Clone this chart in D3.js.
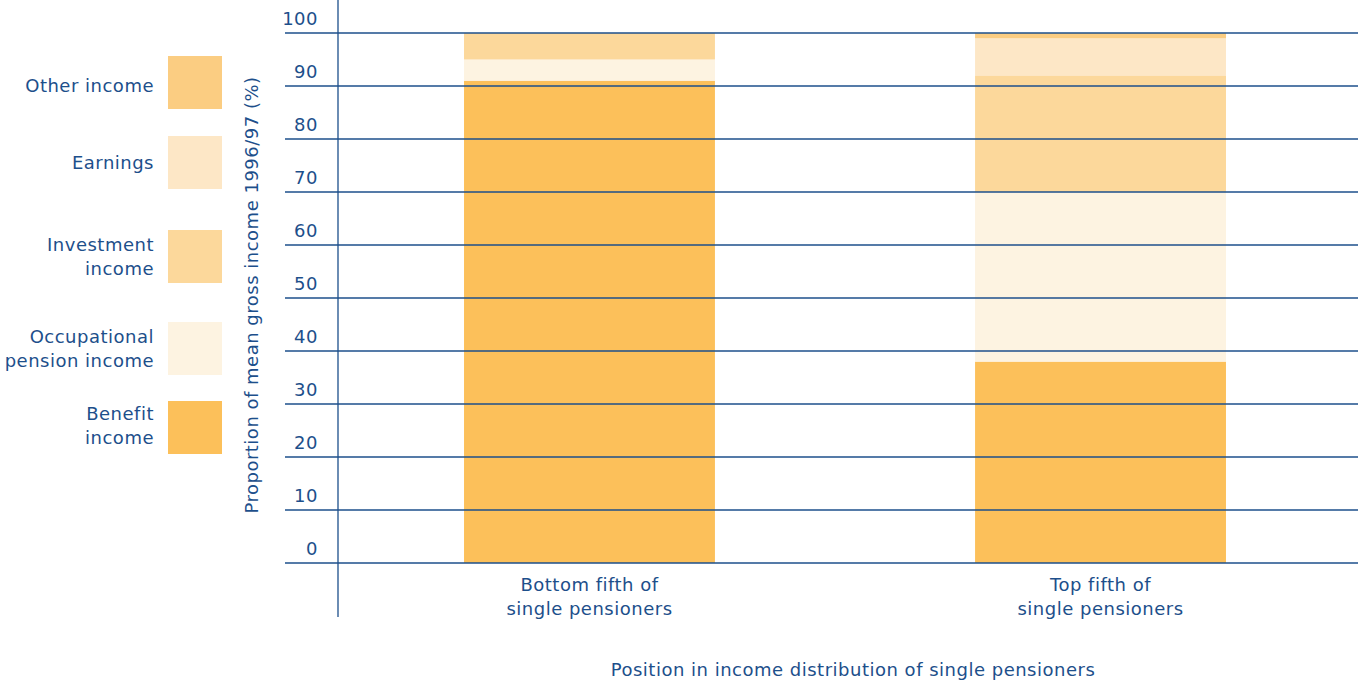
<!DOCTYPE html>
<html><head><meta charset="utf-8">
<script src="https://cdn.jsdelivr.net/npm/d3@7"></script>
<style>body{margin:0;background:#fff}svg{display:block}text{font-family:"DejaVu Sans",Verdana,sans-serif;fill:#1d4f8b;letter-spacing:0.5px}</style>
</head><body>
<script>
const categories = [["Bottom fifth of","single pensioners"],["Top fifth of","single pensioners"]];
const seriesNames = ["Benefit income","Occupational pension income","Investment income","Earnings","Other income"];
const benefit = [91, 38];
const occupational = [4, 32];
const investment = [5, 22];
const earnings = [0, 7];
const other = [0, 1];
const yTicks = [0,10,20,30,40,50,60,70,80,90,100];
const colors = ["#fcc05a","#fdf3e1","#fcd89b","#fde7c6","#fbcd82"];
const legendLabels = [["Other income"],["Earnings"],["Investment","income"],["Occupational","pension income"],["Benefit","income"]];
const legendColors = ["#fbcd82","#fde7c6","#fcd89b","#fdf3e1","#fcc05a"];

const W=1364,H=684;
const FS=18;
const svg=d3.select("body").append("svg").attr("width",W).attr("height",H);
const y=d3.scaleLinear().domain([0,100]).range([563,33]);
const x=d3.scaleBand().domain(d3.range(categories.length)).range([338,1352]).paddingInner(0.509).paddingOuter(0.2466);

// bars
const table=categories.map((c,i)=>({i,b:benefit[i],o:occupational[i],inv:investment[i],e:earnings[i],ot:other[i]}));
const stack=d3.stack().keys(["b","o","inv","e","ot"])(table);
stack.forEach((layer,k)=>{
  svg.append("g").selectAll("rect").data(layer).join("rect")
    .attr("x",d=>x(d.data.i)).attr("width",x.bandwidth())
    .attr("y",d=>y(d[1])).attr("height",d=>y(d[0])-y(d[1]))
    .attr("fill",colors[k]);
});

// gridlines
const g=svg.append("g");
g.selectAll("line").data(yTicks).join("line")
  .attr("x1",285).attr("x2",1358).attr("y1",d=>y(d)).attr("y2",d=>y(d))
  .attr("stroke","#1d4f8b").attr("stroke-width",1.3);
g.selectAll("text").data(yTicks).join("text")
  .attr("x",318).attr("y",d=>y(d)-8).attr("text-anchor","end")
  .attr("font-size",FS).text(d=>d);
// y axis line
svg.append("line").attr("x1",338).attr("x2",338).attr("y1",0).attr("y2",617)
  .attr("stroke","#1d4f8b").attr("stroke-width",1.3);

// x labels
categories.forEach((c,i)=>{
  const t=svg.append("text").attr("x",x(i)+x.bandwidth()/2).attr("y",591).attr("text-anchor","middle").attr("font-size",FS);
  c.forEach((l,j)=>t.append("tspan").attr("x",x(i)+x.bandwidth()/2).attr("dy",j?24:0).text(l));
});
svg.append("text").attr("x",853).attr("y",676).attr("text-anchor","middle").attr("font-size",FS)
  .text("Position in income distribution of single pensioners");
svg.append("text").attr("transform","translate(258,295) rotate(-90)").attr("text-anchor","middle").attr("font-size",FS)
  .text("Proportion of mean gross income 1996/97 (%)");

// legend
const legY=[56,136,230,322,401];
const legOff=[3,0,0,0,-2];
legendLabels.forEach((lab,i)=>{
  svg.append("rect").attr("x",168).attr("y",legY[i]).attr("width",54).attr("height",53).attr("fill",legendColors[i]);
  const cy=legY[i]+26.5+legOff[i];
  const n=lab.length;
  const t=svg.append("text").attr("text-anchor","end").attr("font-size",FS);
  lab.forEach((l,j)=>t.append("tspan").attr("x",154).attr("y",cy+6+(j-(n-1)/2)*24).text(l));
});
</script>
</body></html>
